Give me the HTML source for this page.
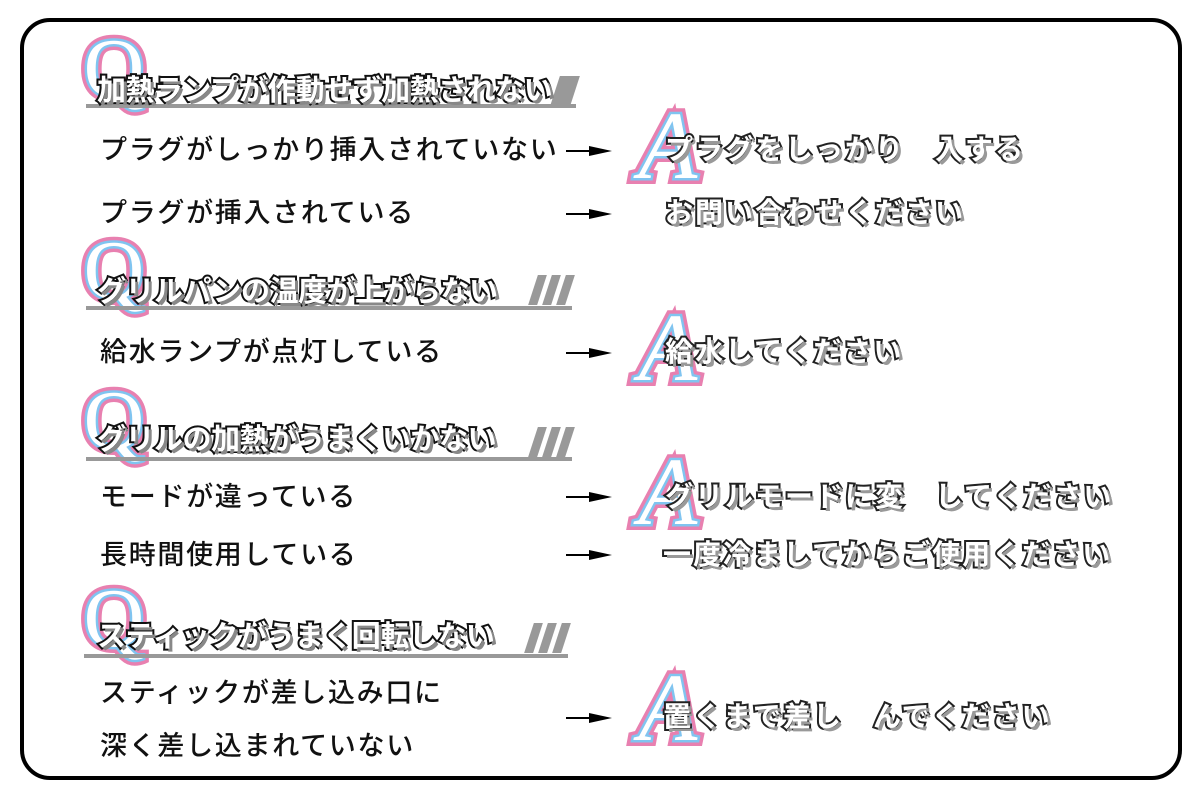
<!DOCTYPE html>
<html><head><meta charset="utf-8"><style>
body{margin:0;width:1200px;height:800px;background:#fff;position:relative;overflow:hidden;font-family:"Liberation Sans","Noto Sans CJK JP",sans-serif}
.frame{position:absolute;left:20px;top:18px;width:1154px;height:754px;border:4px solid #000;border-radius:30px}
.t{position:absolute;white-space:nowrap;line-height:1}
.body{font-size:27px;letter-spacing:1.7px;color:#111;font-weight:500}
.hd{font-size:29px;font-weight:700;color:#fff;-webkit-text-stroke:4px #111;paint-order:stroke fill;text-shadow:3px 3px 0 #888;letter-spacing:-0.5px}
.an{font-size:28px;font-weight:700;color:#fff;-webkit-text-stroke:4px #222;paint-order:stroke fill;text-shadow:3px 3px 0 #999;letter-spacing:2px}
.ul{position:absolute;height:4px;background:#999}
.sl{position:absolute;width:9px;height:30px;background:#999;transform:skewX(-18deg)}
svg.L,svg.ar{position:absolute;overflow:visible}
</style></head><body>
<div class="frame"></div>

<!-- Section 1 -->
<svg class="L" style="left:84px;top:30px" width="60" height="70"><text x="30" y="66" text-anchor="middle" font-family="Liberation Serif" font-size="84" fill="#fff" stroke="#e880b0" stroke-width="12" paint-order="stroke">Q</text><text x="30" y="66" text-anchor="middle" font-family="Liberation Serif" font-size="84" fill="#fff" stroke="#80c4f0" stroke-width="5" paint-order="stroke">Q</text></svg>
<div class="ul" style="left:86px;top:104px;width:490px"></div>
<div class="sl" style="left:555px;top:76px;width:20px"></div>
<div class="t hd" style="left:97px;top:77px">加熱ランプが作動せず加熱されない</div>
<div class="t body" style="left:100px;top:137px">プラグがしっかり挿入されていない</div>
<svg class="ar" style="left:0;top:0" width="1200" height="800">
<g stroke="#000" stroke-width="2"><line x1="566" y1="151" x2="600" y2="151"/><line x1="566" y1="214" x2="600" y2="214"/><line x1="566" y1="353" x2="600" y2="353"/><line x1="566" y1="497" x2="600" y2="497"/><line x1="566" y1="555" x2="600" y2="555"/><line x1="566" y1="718" x2="600" y2="718"/></g>
<g fill="#000"><polygon points="589,146 612,151 589,156"/><polygon points="589,209 612,214 589,219"/><polygon points="589,348 612,353 589,358"/><polygon points="589,492 612,497 589,502"/><polygon points="589,550 612,555 589,560"/><polygon points="589,713 612,718 589,723"/></g>
</svg>
<div class="t body" style="left:100px;top:200px">プラグが挿入されている</div>
<svg class="L" style="left:636px;top:100px" width="70" height="80"><text x="32" y="78" text-anchor="middle" font-family="Liberation Serif" font-style="italic" font-size="96" fill="#fff" stroke="#e880b0" stroke-width="12" paint-order="stroke">A</text><text x="32" y="78" text-anchor="middle" font-family="Liberation Serif" font-style="italic" font-size="96" fill="#fff" stroke="#80c4f0" stroke-width="5" paint-order="stroke">A</text></svg>
<div class="t an" style="left:665px;top:136px">プラグをしっかり　入する</div>
<div class="t an" style="left:665px;top:199px">お問い合わせください</div>

<!-- Section 2 -->
<svg class="L" style="left:84px;top:232px" width="60" height="70"><text x="30" y="66" text-anchor="middle" font-family="Liberation Serif" font-size="84" fill="#fff" stroke="#e880b0" stroke-width="12" paint-order="stroke">Q</text><text x="30" y="66" text-anchor="middle" font-family="Liberation Serif" font-size="84" fill="#fff" stroke="#80c4f0" stroke-width="5" paint-order="stroke">Q</text></svg>
<div class="ul" style="left:86px;top:306px;width:486px"></div>
<div class="sl" style="left:533px;top:275px"></div><div class="sl" style="left:547px;top:275px"></div><div class="sl" style="left:561px;top:275px"></div>
<div class="t hd" style="left:97px;top:278px">グリルパンの温度が上がらない</div>
<div class="t body" style="left:100px;top:339px">給水ランプが点灯している</div>
<svg class="L" style="left:636px;top:302px" width="70" height="80"><text x="32" y="78" text-anchor="middle" font-family="Liberation Serif" font-style="italic" font-size="96" fill="#fff" stroke="#e880b0" stroke-width="12" paint-order="stroke">A</text><text x="32" y="78" text-anchor="middle" font-family="Liberation Serif" font-style="italic" font-size="96" fill="#fff" stroke="#80c4f0" stroke-width="5" paint-order="stroke">A</text></svg>
<div class="t an" style="left:665px;top:338px">給水してください</div>

<!-- Section 3 -->
<svg class="L" style="left:84px;top:382px" width="60" height="70"><text x="30" y="66" text-anchor="middle" font-family="Liberation Serif" font-size="84" fill="#fff" stroke="#e880b0" stroke-width="12" paint-order="stroke">Q</text><text x="30" y="66" text-anchor="middle" font-family="Liberation Serif" font-size="84" fill="#fff" stroke="#80c4f0" stroke-width="5" paint-order="stroke">Q</text></svg>
<div class="ul" style="left:86px;top:457px;width:486px"></div>
<div class="sl" style="left:533px;top:427px"></div><div class="sl" style="left:547px;top:427px"></div><div class="sl" style="left:561px;top:427px"></div>
<div class="t hd" style="left:97px;top:426px">グリルの加熱がうまくいかない</div>
<div class="t body" style="left:100px;top:484px">モードが違っている</div>
<div class="t body" style="left:100px;top:542px">長時間使用している</div>
<svg class="L" style="left:636px;top:446px" width="70" height="80"><text x="32" y="78" text-anchor="middle" font-family="Liberation Serif" font-style="italic" font-size="96" fill="#fff" stroke="#e880b0" stroke-width="12" paint-order="stroke">A</text><text x="32" y="78" text-anchor="middle" font-family="Liberation Serif" font-style="italic" font-size="96" fill="#fff" stroke="#80c4f0" stroke-width="5" paint-order="stroke">A</text></svg>
<div class="t an" style="left:665px;top:483px">グリルモードに変　してください</div>
<div class="t an" style="left:663px;top:541px">一度冷ましてからご使用ください</div>

<!-- Section 4 -->
<svg class="L" style="left:84px;top:580px" width="60" height="70"><text x="30" y="66" text-anchor="middle" font-family="Liberation Serif" font-size="84" fill="#fff" stroke="#e880b0" stroke-width="12" paint-order="stroke">Q</text><text x="30" y="66" text-anchor="middle" font-family="Liberation Serif" font-size="84" fill="#fff" stroke="#80c4f0" stroke-width="5" paint-order="stroke">Q</text></svg>
<div class="ul" style="left:84px;top:654px;width:484px"></div>
<div class="sl" style="left:529px;top:623px"></div><div class="sl" style="left:543px;top:623px"></div><div class="sl" style="left:557px;top:623px"></div>
<div class="t hd" style="left:97px;top:623px">スティックがうまく回転しない</div>
<div class="t body" style="left:100px;top:680px">スティックが差し込み口に</div>
<div class="t body" style="left:100px;top:733px">深く差し込まれていない</div>
<svg class="L" style="left:636px;top:662px" width="70" height="80"><text x="32" y="78" text-anchor="middle" font-family="Liberation Serif" font-style="italic" font-size="96" fill="#fff" stroke="#e880b0" stroke-width="12" paint-order="stroke">A</text><text x="32" y="78" text-anchor="middle" font-family="Liberation Serif" font-style="italic" font-size="96" fill="#fff" stroke="#80c4f0" stroke-width="5" paint-order="stroke">A</text></svg>
<div class="t an" style="left:663px;top:703px">置くまで差し　んでください</div>
</body></html>
